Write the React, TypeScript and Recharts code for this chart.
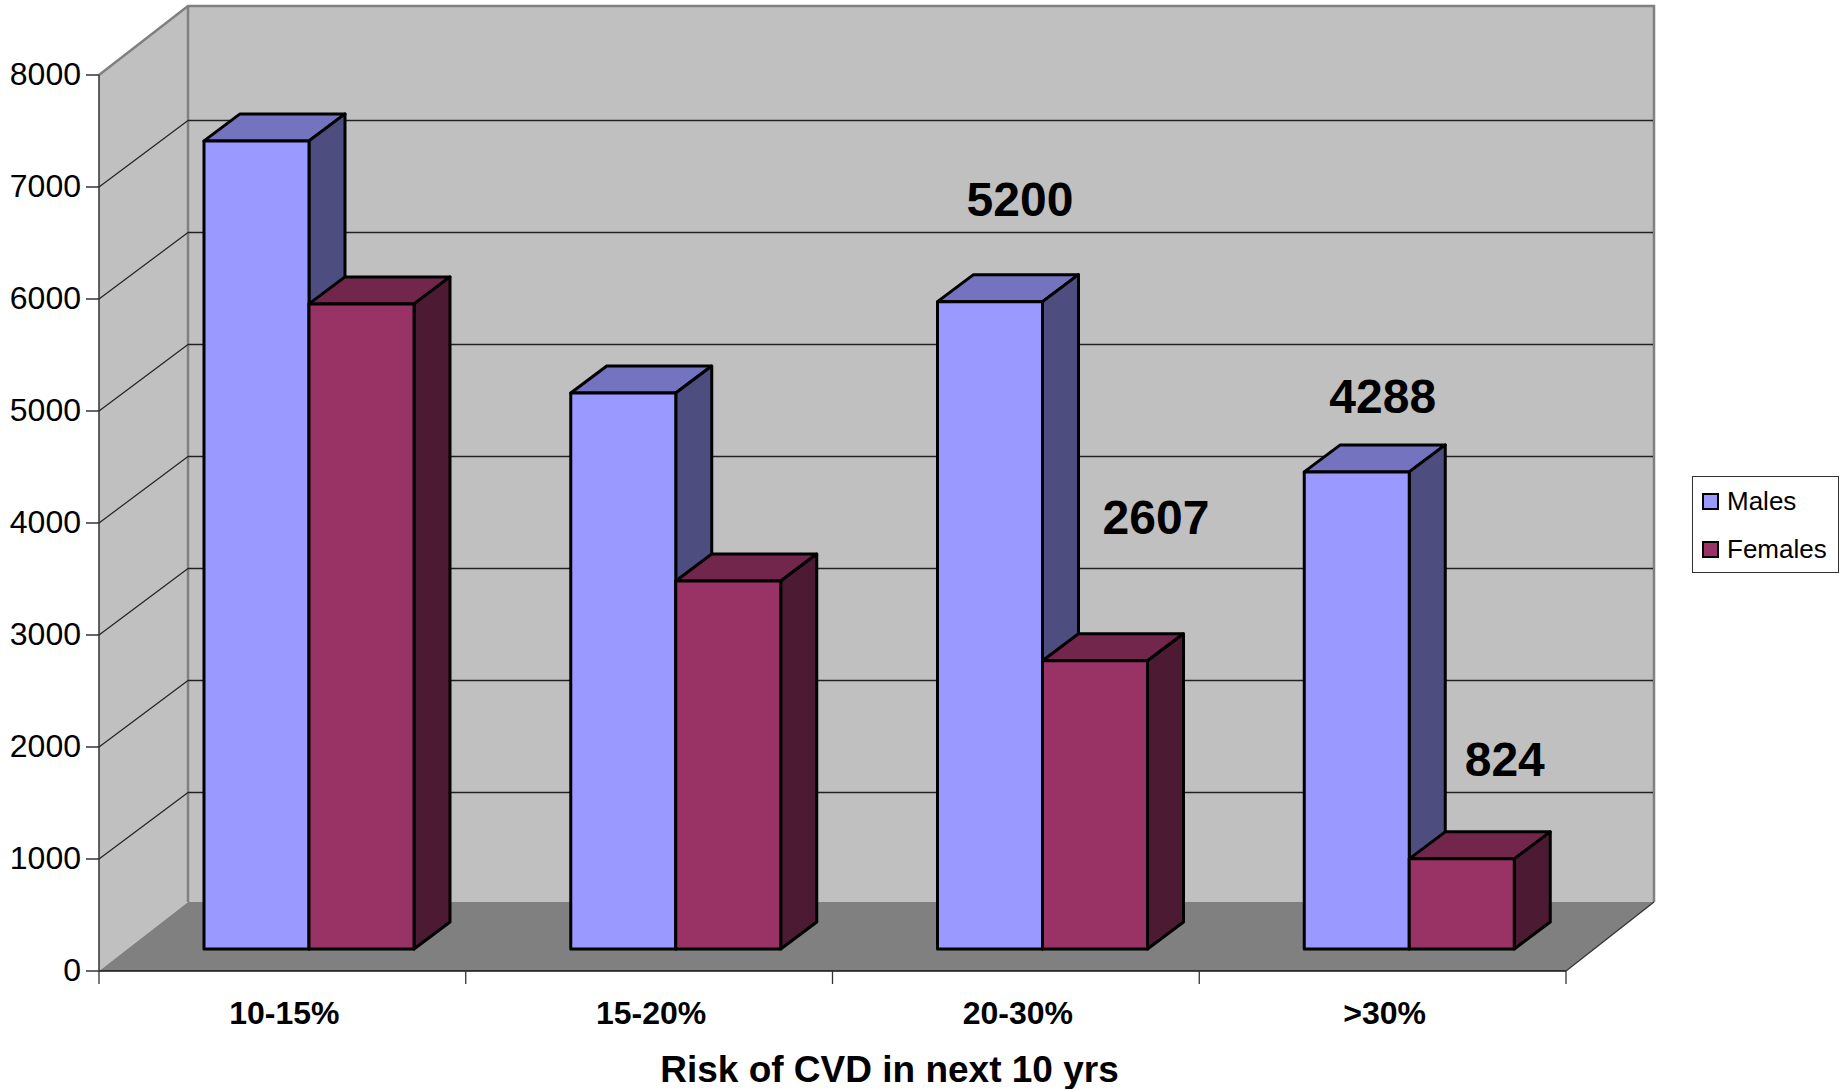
import { Bar, BarChart, CartesianGrid, Customized, LabelList, Legend, XAxis, YAxis } from 'recharts';

// values
const categories = ['10-15%', '15-20%', '20-30%', '>30%'];
const males = [7215, 4964, 5780, 4260];
const females = [5760, 3286, 2573, 805];
const maleLabels = [null, null, 5200, 4288];
const femaleLabels = [null, null, 2607, 824];
const yTicks = [0, 1000, 2000, 3000, 4000, 5000, 6000, 7000, 8000];

const data = categories.map((name, i) => ({
  name,
  males: males[i],
  females: females[i],
  maleLabel: maleLabels[i],
  femaleLabel: femaleLabels[i],
}));

const W = 1841;
const H = 1089;
const LEFT = 99;
const RIGHT = 1566;
const TOP = 75;
const BOTTOM = 971;
const BAND = (RIGHT - LEFT) / categories.length;

// the fake 3d: how far the back wall sits behind the axis plane
const WALL_DX = 89;
const WALL_DY = 69;
const GRID_DY = 66.5;
// bars stand a little inside the floor, with their own depth
const BAR_DX = 27;
const BAR_DY = 22;
const DEPTH_X = 36;
const DEPTH_Y = 27;

const FONT = '"Liberation Sans", Arial, sans-serif';

// annotation placement relative to each bar top
const maleLabelShift = [[0, 0], [0, 0], [30, -102], [26, -75]];
const femaleLabelShift = [[0, 0], [0, 0], [61, -143], [43, -99]];

function Walls() {
  const bx = LEFT + WALL_DX;
  const bxr = RIGHT + WALL_DX - 1;
  const by = TOP - WALL_DY;
  const bb = BOTTOM - WALL_DY;
  return (
    <g>
      <polygon points={`${bx},${by} ${bxr},${by} ${bxr},${bb} ${bx},${bb}`} fill="#c0c0c0" />
      <polygon points={`${LEFT},${TOP} ${bx},${by} ${bx},${bb} ${LEFT},${BOTTOM}`} fill="#c0c0c0" />
      <polygon points={`${LEFT},${BOTTOM} ${bx},${bb} ${bxr},${bb} ${RIGHT},${BOTTOM}`} fill="#808080" />
      <polyline points={`${LEFT},${TOP} ${bx},${by} ${bxr},${by} ${bxr},${bb}`} fill="none" stroke="#808080" strokeWidth={2.5} />
      <line x1={bx} y1={by} x2={bx} y2={bb} stroke="#808080" strokeWidth={2.5} />
      <line x1={bxr} y1={bb} x2={RIGHT} y2={BOTTOM} stroke="#333" strokeWidth={1.3} />
    </g>
  );
}

function gridLine(props: any) {
  const { y1, x1 } = props;
  if (Math.abs(y1 - TOP) < 1 || Math.abs(y1 - BOTTOM) < 1) return <g key={props.key ?? y1} />;
  return (
    <g key={props.key ?? y1}>
      <line x1={x1} y1={y1} x2={x1 + WALL_DX} y2={y1 - GRID_DY} stroke="#222" strokeWidth={1.2} />
      <line x1={x1 + WALL_DX} y1={y1 - GRID_DY} x2={RIGHT + WALL_DX - 2} y2={y1 - GRID_DY} stroke="#222" strokeWidth={1.4} />
    </g>
  );
}

function box(front: string, top: string, side: string) {
  return (props: any) => {
    const { x, y, width, height } = props;
    const l = x + BAR_DX;
    const r = l + width;
    const t = y - BAR_DY;
    const b = t + height;
    return (
      <g stroke="#000" strokeWidth={3} strokeLinejoin="round">
        <polygon points={`${l},${t} ${l + DEPTH_X},${t - DEPTH_Y} ${r + DEPTH_X},${t - DEPTH_Y} ${r},${t}`} fill={top} />
        <polygon points={`${r},${t} ${r + DEPTH_X},${t - DEPTH_Y} ${r + DEPTH_X},${b - DEPTH_Y} ${r},${b}`} fill={side} />
        <rect x={l} y={t} width={width} height={height} fill={front} />
      </g>
    );
  };
}

function annotation(shift: number[][]) {
  return (props: any) => {
    const { x, y, width, value, index } = props;
    if (value == null) return null;
    return (
      <text
        x={x + width / 2 + BAR_DX + shift[index][0]}
        y={y - BAR_DY + shift[index][1]}
        textAnchor="middle"
        dominantBaseline="central"
        fontFamily={FONT}
        fontWeight="bold"
        fontSize={48}
        fill="#000"
      >
        {value}
      </text>
    );
  };
}

function CategoryTick(props: any) {
  const { x, payload, index } = props;
  const left = x - BAND / 2;
  return (
    <g>
      <line x1={left} y1={BOTTOM} x2={left} y2={BOTTOM + 13} stroke="#333" strokeWidth={1.3} />
      {index === categories.length - 1 && (
        <line x1={left + BAND} y1={BOTTOM} x2={left + BAND} y2={BOTTOM + 13} stroke="#333" strokeWidth={1.3} />
      )}
      <text x={x + 2} y={BOTTOM + 53} textAnchor="middle" fontFamily={FONT} fontWeight="bold" fontSize={32} fill="#000">
        {payload.value}
      </text>
    </g>
  );
}

function LegendBox({ payload }: any) {
  return (
    <div style={{ boxSizing: 'border-box', width: 147, height: 97, border: '1.5px solid #333', background: '#fff', fontFamily: FONT, fontSize: 26, color: '#000', position: 'relative' }}>
      {(payload ?? []).map((p: any, i: number) => (
        <div key={p.value} style={{ position: 'absolute', left: 9, top: 9 + i * 48, height: 30, lineHeight: '30px', display: 'flex', alignItems: 'center', whiteSpace: 'nowrap' }}>
          <span style={{ boxSizing: 'border-box', display: 'inline-block', width: 17, height: 17, border: '2.5px solid #000', background: p.color, marginRight: 8 }} />
          {p.value}
        </div>
      ))}
    </div>
  );
}

export default function App() {
  return (
    <div style={{ position: 'absolute', left: 0, top: 0, width: W, height: H, background: '#fff', fontFamily: FONT }}>
      <BarChart
        width={W}
        height={H}
        data={data}
        margin={{ top: TOP, right: W - RIGHT, bottom: 0, left: 0 }}
        barCategoryGap={78}
        barGap={0}
      >
        <Customized component={Walls} />
        <CartesianGrid vertical={false} horizontal={gridLine} zIndex={50} />
        <XAxis
          dataKey="name"
          height={H - BOTTOM}
          axisLine={{ stroke: '#111', strokeWidth: 1.5 }}
          tickLine={false}
          interval={0}
          tick={CategoryTick}
          label={{ value: 'Risk of CVD in next 10 yrs', position: 'insideBottom', offset: 7, dx: 57, style: { fontFamily: FONT, fontWeight: 'bold', fontSize: 37, fill: '#000' } }}
        />
        <YAxis
          width={LEFT}
          domain={[0, 8000]}
          ticks={yTicks}
          interval={0}
          tickSize={13}
          tickMargin={5}
          axisLine={{ stroke: '#333', strokeWidth: 1.5 }}
          tickLine={{ stroke: '#333', strokeWidth: 1.5 }}
          tick={{ fontFamily: FONT, fontSize: 32, fill: '#000', dy: -1 }}
        />
        <Legend
          layout="vertical"
          align="center"
          verticalAlign="middle"
          itemSorter={null}
          content={<LegendBox />}
          wrapperStyle={{ left: 1692, top: 476, width: 147, height: 97 }}
        />
        <Bar dataKey="males" name="Males" fill="#9999ff" shape={box('#9999ff', '#7373bf', '#4d4d80')} isAnimationActive={false}>
          <LabelList dataKey="maleLabel" content={annotation(maleLabelShift)} />
        </Bar>
        <Bar dataKey="females" name="Females" fill="#993366" shape={box('#993366', '#73264c', '#4d1a33')} isAnimationActive={false}>
          <LabelList dataKey="femaleLabel" content={annotation(femaleLabelShift)} />
        </Bar>
      </BarChart>
    </div>
  );
}
